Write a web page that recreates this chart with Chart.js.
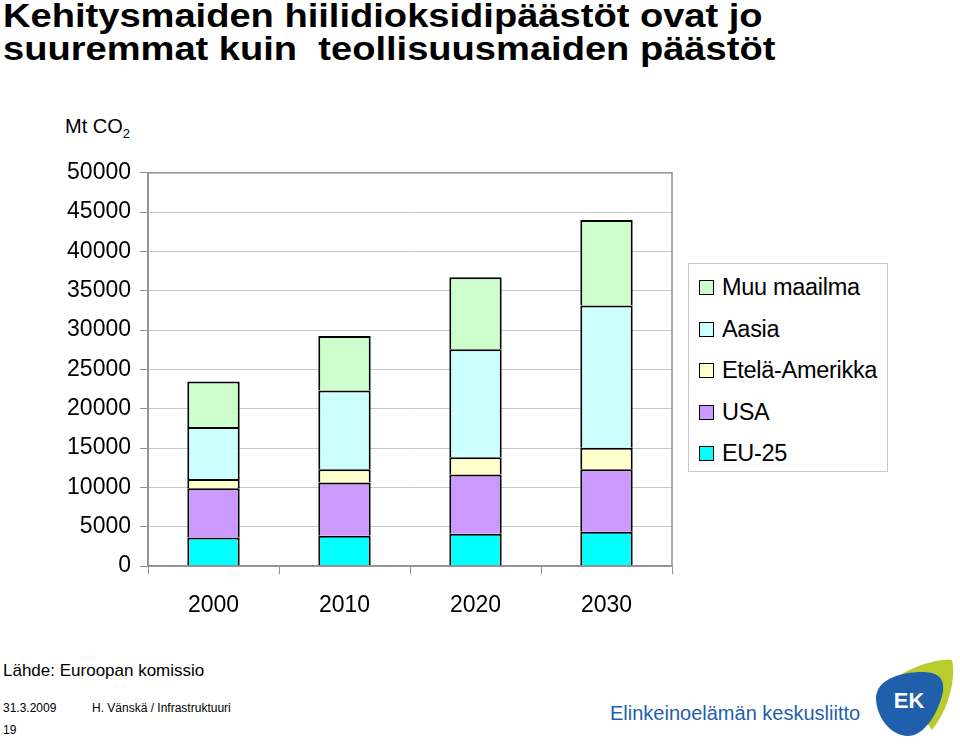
<!DOCTYPE html>
<html>
<head>
<meta charset="utf-8">
<script src="https://cdn.jsdelivr.net/npm/chart.js@4.4.1/dist/chart.umd.min.js"></script>
<style>
  body { margin: 0; width: 960px; height: 744px; background: #fff; position: relative; overflow: hidden;
         font-family: "Liberation Sans", Arial, sans-serif; color: #000; }
  #title { position: absolute; left: 3px; top: -1px; font-weight: bold; font-size: 34px; line-height: 33px;
           transform: scaleX(1.12); transform-origin: left top; white-space: nowrap; }
  #unit { position: absolute; left: 65px; top: 115px; font-size: 20px; }
  #unit sub { font-size: 13px; vertical-align: -5px; }
  #wrap { position: absolute; left: 0; top: 150px; width: 680px; height: 480px; }
  #legend { position: absolute; left: 688px; top: 263px; width: 200px; height: 209px; border: 1px solid #c8c8c8;
            box-sizing: border-box; padding-top: 3px; }
  .item { display: flex; align-items: center; height: 41.5px; font-size: 23.5px; white-space: nowrap;
          letter-spacing: -0.3px; }
  .sw { width: 13px; height: 13px; border: 1px solid #000; margin: 0 8px 0 10px; flex: none; }
  #source { position: absolute; left: 3px; top: 661px; font-size: 17px; }
  #foot1 { position: absolute; left: 3px; top: 701px; font-size: 12px; }
  #foot2 { position: absolute; left: 92px; top: 701px; font-size: 12px; }
  #foot3 { position: absolute; left: 3px; top: 723px; font-size: 12px; }
  #org { position: absolute; left: 610px; top: 702px; font-size: 20px; color: #1f5fab; }
  #logo { position: absolute; left: 872px; top: 656px; }
</style>
</head>
<body>
<div id="title">Kehitysmaiden hiilidioksidipäästöt ovat jo<br>suuremmat kuin&nbsp; teollisuusmaiden päästöt</div>
<div id="unit">Mt CO<sub>2</sub></div>
<div id="wrap"><canvas id="chart" width="680" height="480"></canvas></div>
<div id="legend"></div>
<div id="source">Lähde: Euroopan komissio</div>
<div id="foot1">31.3.2009</div>
<div id="foot2">H. Vänskä / Infrastruktuuri</div>
<div id="foot3">19</div>
<div id="org">Elinkeinoelämän keskusliitto</div>
<svg id="logo" width="84" height="84" viewBox="0 0 84 84">
  <path d="M22 22 C42 10 66 2 80 4 C84 20 78 52 60 74 C50 60 36 36 22 22 Z" fill="#b8cc2e"/>
  <path d="M4 42 C4 24 28 16 50 16 C68 16 74 24 70 40 C64 62 50 80 36 80 C18 80 4 60 4 42 Z" fill="#1f5fab"/>
  <text x="37" y="52" text-anchor="middle" font-family="Liberation Sans" font-weight="bold" font-size="22" fill="#fff">EK</text>
</svg>
<script>
const years = ['2000', '2010', '2020', '2030'];
const yTicks = [0, 5000, 10000, 15000, 20000, 25000, 30000, 35000, 40000, 45000, 50000];

// Mt CO2 per region, stacked bottom to top
const eu25 = [3640, 3850, 4100, 4350];
const usa = [6250, 6760, 7520, 7950];
const southAmerica = [1180, 1690, 2200, 2750];
const asia = [6590, 10020, 13740, 18090];
const restOfWorld = [5790, 6930, 9170, 10860];

const seriesNames = ['EU-25', 'USA', 'Etelä-Amerikka', 'Aasia', 'Muu maailma'];
const seriesColors = ['#00ffff', '#cc99ff', '#ffffcc', '#ccffff', '#ccffcc'];
const seriesData = [eu25, usa, southAmerica, asia, restOfWorld];

const frame = {
  id: 'frame',
  afterDraw(chart) {
    const { ctx, chartArea: a } = chart;
    ctx.save();
    ctx.strokeStyle = '#909090';
    ctx.lineWidth = 1.5;
    ctx.strokeRect(a.left, a.top, a.right - a.left, a.bottom - a.top);
    ctx.restore();
  }
};

const chart = new Chart(document.getElementById('chart'), {
  type: 'bar',
  data: {
    labels: years,
    datasets: seriesData.map((d, i) => ({
      label: seriesNames[i],
      data: d,
      backgroundColor: seriesColors[i],
      borderColor: '#000',
      borderWidth: 2,
      borderSkipped: 'start',
      barPercentage: 0.4,
      categoryPercentage: 1,
    })),
  },
  options: {
    responsive: false,
    animation: false,
    layout: { padding: { top: 21, right: 8 } },
    plugins: { legend: { display: false }, tooltip: { enabled: false } },
    scales: {
      x: {
        stacked: true,
        grid: { offset: true, drawOnChartArea: false, tickLength: 8, color: '#909090' },
        border: { color: '#909090', width: 1.5 },
        ticks: { color: '#000', font: { family: 'Liberation Sans', size: 23 }, padding: 18 },
        afterFit: s => { s.height = 64; },
      },
      y: {
        stacked: true,
        min: 0,
        max: 50000,
        afterBuildTicks: s => { s.ticks = yTicks.map(v => ({ value: v })); },
        grid: { color: '#c8c8c8', tickLength: 8, tickColor: '#909090' },
        border: { color: '#909090', width: 1.5 },
        ticks: { color: '#000', font: { family: 'Liberation Sans', size: 23 }, padding: 9, callback: v => String(v) },
        afterFit: s => { s.width = 148; },
      },
    },
  },
  plugins: [frame],
});

// legend, top to bottom as in the original
const legend = document.getElementById('legend');
chart.data.datasets.slice().reverse().forEach(ds => {
  const row = document.createElement('div');
  row.className = 'item';
  row.innerHTML = `<span class="sw" style="background:${ds.backgroundColor}"></span>${ds.label}`;
  legend.appendChild(row);
});
</script>
</body>
</html>
